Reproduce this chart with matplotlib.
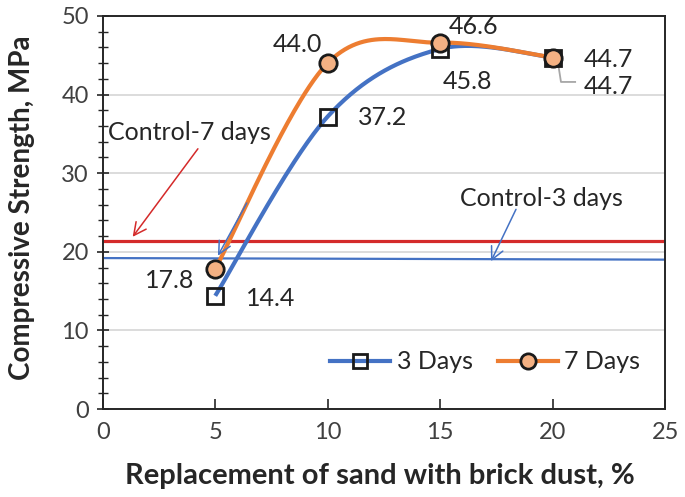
import numpy as np
import matplotlib
matplotlib.use("Agg")
import matplotlib.pyplot as plt
from matplotlib.ticker import MultipleLocator

plt.rcParams['font.family'] = ['Lato', 'DejaVu Sans']

# ---- data ----
replacement = [5, 10, 15, 20]
days3 = [14.4, 37.2, 45.8, 44.7]
days7 = [17.8, 44.0, 46.6, 44.7]
control7_x = [0, 25]
control7_y = [21.4, 21.4]
control3_x = [0, 25]
control3_y = [19.2, 19.0]
xticks = [0, 5, 10, 15, 20, 25]
yticks = [0, 10, 20, 30, 40, 50]

BLUE = '#4472C4'
ORANGE = '#ED7D31'
RED = '#D42A2A'


def excel_smooth(xs, ys, n=60):
    P = np.column_stack([xs, ys]).astype(float)
    out = []
    m = len(P)
    for i in range(m - 1):
        p0 = P[i - 1] if i > 0 else P[i]
        p1 = P[i]
        p2 = P[i + 1]
        p3 = P[i + 2] if i + 2 < m else P[i + 1]
        c1 = p1 + (p2 - p0) / 6.0
        c2 = p2 - (p3 - p1) / 6.0
        t = np.linspace(0, 1, n)[:, None]
        seg = ((1 - t) ** 3) * p1 + 3 * ((1 - t) ** 2) * t * c1 + 3 * (1 - t) * t ** 2 * c2 + t ** 3 * p2
        out.append(seg if i == 0 else seg[1:])
    S = np.vstack(out)
    return S[:, 0], S[:, 1]


fig = plt.figure(figsize=(6.85, 4.97), dpi=100)
ax = fig.add_axes([0.150, 0.177, 0.821, 0.791])

ax.set_xlim(0, 25)
ax.set_ylim(0, 50)
ax.set_xticks(xticks)
ax.set_yticks(yticks)
ax.yaxis.set_minor_locator(MultipleLocator(2))
ax.grid(axis='y', which='major', color='#D9D9D9', lw=1.3, zorder=0)
ax.set_axisbelow(True)

# control lines
ax.plot(control7_x, control7_y, color=RED, lw=2.3, zorder=2)
ax.plot(control3_x, control3_y, color=BLUE, lw=1.6, zorder=2)

# smoothed series
sx, sy = excel_smooth(replacement, days3)
ax.plot(sx, sy, color=BLUE, lw=3, zorder=3, solid_capstyle='butt')
sx, sy = excel_smooth(replacement, days7)
ax.plot(sx, sy, color=ORANGE, lw=3, zorder=3, solid_capstyle='butt')

ax.plot(replacement, days3, ls='none', marker='s', ms=11, mfc='none', mec='#1a1a1a', mew=2, zorder=4)
ax.plot(replacement, days7, ls='none', marker='o', ms=12.5, mfc='#F4B183', mec='#1a1a1a', mew=2, zorder=5)

fs = 18
tc = '#262626'

# legend proxies
h3, = ax.plot([], [], color=BLUE, lw=3, marker='s', ms=10, mfc='none', mec='#1a1a1a', mew=2)
h7, = ax.plot([], [], color=ORANGE, lw=3, marker='o', ms=11, mfc='#F4B183', mec='#1a1a1a', mew=2)
leg = ax.legend([h3, h7], ['3 Days', '7 Days'], loc='center', bbox_to_anchor=(0.68, 0.12),
                ncol=2, frameon=False, fontsize=fs, handlelength=2.4, columnspacing=1.0,
                handletextpad=0.25, labelcolor=tc)

labels = [
    ('44.0', 8.67, 46.4), ('37.2', 12.46, 37.1), ('46.6', 16.5, 48.7),
    ('45.8', 16.2, 41.7), ('44.7', 22.5, 44.5), ('44.7', 22.5, 41.0),
    ('17.8', 2.97, 16.3), ('14.4', 7.47, 14.0),
]
for s, x, y in labels:
    ax.text(x, y, s, ha='center', va='center', fontsize=fs, color=tc, zorder=6)

ax.plot([20.25, 20.37, 21.0], [43.8, 41.6, 41.6], color='#A6A6A6', lw=1.3, zorder=3)

ax.text(3.87, 35.2, 'Control-7 days', ha='center', va='center', fontsize=fs, color=tc)
ax.text(19.5, 26.8, 'Control-3 days', ha='center', va='center', fontsize=fs, color=tc)

ax.annotate('', xy=(1.33, 21.9), xytext=(4.23, 33.1),
            arrowprops=dict(arrowstyle='->,head_length=0.9,head_width=0.45', color=RED, lw=1.1, shrinkA=0, shrinkB=0))
ax.annotate('', xy=(5.12, 19.5), xytext=(6.4, 26.2),
            arrowprops=dict(arrowstyle='->,head_length=0.9,head_width=0.45', color=BLUE, lw=1.1, shrinkA=0, shrinkB=0), zorder=6)
ax.annotate('', xy=(17.26, 18.8), xytext=(18.37, 25.4),
            arrowprops=dict(arrowstyle='->,head_length=0.9,head_width=0.45', color=BLUE, lw=1.1, shrinkA=0, shrinkB=0))

for sp in ax.spines.values():
    sp.set_color('#262626')
    sp.set_linewidth(1.4)

ax.tick_params(axis='y', which='major', direction='inout', length=8, width=1.2, colors='#262626',
               labelsize=17, labelcolor='#404040', pad=6)
ax.tick_params(axis='y', which='minor', direction='inout', length=7, width=1.0, colors='#262626')
ax.tick_params(axis='x', which='major', direction='in', length=7, width=1.2, colors='#262626',
               labelsize=17, labelcolor='#404040', pad=9)

fig.text(0.555, 0.042, 'Replacement of sand with brick dust, %', ha='center', va='center',
         fontsize=21, fontweight='bold', color='#262626')
fig.text(0.032, 0.581, 'Compressive Strength, MPa', ha='center', va='center', rotation=90,
         fontsize=20, fontweight='bold', color='#262626')

fig.savefig('out.png', dpi=100)
